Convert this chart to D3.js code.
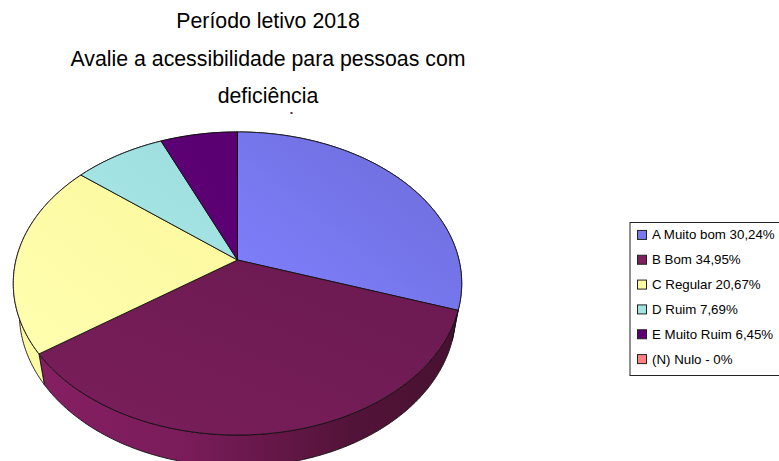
<!DOCTYPE html>
<html>
<head>
<meta charset="utf-8">
<script src="https://cdnjs.cloudflare.com/ajax/libs/d3/7.8.5/d3.min.js"></script>
<style>
body { margin: 0; background: #fff; }
text { font-family: "Liberation Sans", Arial, sans-serif; fill: #000; }
</style>
</head>
<body>
<div id="chart"></div>
<script>
var titleLines = ["Período letivo 2018", "Avalie a acessibilidade para pessoas com", "deficiência"];
var categories = ["A Muito bom", "B Bom", "C Regular", "D Ruim", "E Muito Ruim", "(N) Nulo"];
var values = [30.24, 34.95, 20.67, 7.69, 6.45, 0];
var labels = ["A Muito bom 30,24%", "B Bom 34,95%", "C Regular 20,67%", "D Ruim 7,69%", "E Muito Ruim 6,45%", "(N) Nulo - 0%"];
var colors = ["#7878ee", "#731c55", "#fdfaa4", "#a2e3e3", "#5c0074", "#ff8080"];
var lightColors = ["#8080ff", "#7a1e5b", "#ffffb0", "#a8e8e8", "#5f0078", "#ff8080"];
var darkColors = ["#6c6cd8", "#6a1a50", "#fbf79c", "#9cdcdc", "#590070", "#ff8080"];

var W = 779, H = 461;

var svg = d3.select("#chart").append("svg")
  .attr("width", W)
  .attr("height", H)
  .style("display", "block");

var defs = svg.append("defs");

// pie is tilted with perspective, so unit circle goes through a projective map
var persp = -0.155;
function project(a, level) {
  var u = Math.sin(a), v = -Math.cos(a);
  var d = 1 + persp * v;
  return [level.cx + level.a * u / d, level.cy + level.b * v / d];
}
var topLevel = {cx: 237.5, cy: 260, a: 221.5, b: 147.9};
var botLevel = {cx: 237.5, cy: 289.8, a: 215.5, b: 149.4};

var pie = d3.pie().sort(null).value(function(d) { return d; });
var arcs = pie(values);

function rim(a0, a1, level) {
  var n = Math.max(2, Math.ceil((a1 - a0) / 0.01));
  return d3.range(n + 1).map(function(i) { return project(a0 + (a1 - a0) * i / n, level); });
}
var line = d3.line();

colors.forEach(function(c, i) {
  var g = defs.append("linearGradient").attr("id", "top" + i)
    .attr("x1", 0).attr("y1", 1).attr("x2", 1).attr("y2", 0);
  g.append("stop").attr("offset", 0).attr("stop-color", lightColors[i]);
  g.append("stop").attr("offset", 1).attr("stop-color", darkColors[i]);
});
var wg = defs.append("linearGradient").attr("id", "wall");
wg.append("stop").attr("offset", 0).attr("stop-color", "#851f63");
wg.append("stop").attr("offset", 0.35).attr("stop-color", "#7a1c5a");
wg.append("stop").attr("offset", 0.75).attr("stop-color", "#521338");
wg.append("stop").attr("offset", 1).attr("stop-color", "#481130");

// walls first, the top faces paint over whatever is not visible
var walls = svg.append("g");
arcs.filter(function(d) { return d.endAngle > d.startAngle; }).forEach(function(d) {
  var top = rim(d.startAngle, d.endAngle, topLevel);
  var bot = rim(d.startAngle, d.endAngle, botLevel).reverse();
  walls.append("path")
    .attr("d", line(top.concat(bot)) + "Z")
    .attr("fill", d.index == 1 ? "url(#wall)" : colors[d.index])
    .attr("stroke", "#111")
    .attr("stroke-width", 0.9)
    .attr("stroke-linejoin", "round");
});

var faces = svg.append("g");
arcs.filter(function(d) { return d.endAngle > d.startAngle; }).forEach(function(d) {
  var pts = [[topLevel.cx, topLevel.cy]].concat(rim(d.startAngle, d.endAngle, topLevel));
  faces.append("path")
    .attr("d", line(pts) + "Z")
    .attr("fill", "url(#top" + d.index + ")")
    .attr("stroke", "#111")
    .attr("stroke-width", 0.9)
    .attr("stroke-linejoin", "round");
});

// title
svg.append("g").selectAll("text")
  .data(titleLines)
  .join("text")
  .attr("x", 268)
  .attr("y", function(d, i) { return 28 + i * 37.5; })
  .attr("text-anchor", "middle")
  .attr("font-size", 21.3)
  .text(function(d) { return d; });

// the little speck under the title, leftover label of the empty slice
svg.append("rect")
  .attr("x", 290.5).attr("y", 112)
  .attr("width", 2).attr("height", 2)
  .attr("fill", "#5a3040");

// legend
var legY = d3.scaleBand().domain(categories).range([222.5, 371.5]);
var legend = svg.append("g");
legend.append("rect")
  .attr("x", 630).attr("y", 222.5)
  .attr("width", 155).attr("height", 153)
  .attr("fill", "#fff")
  .attr("stroke", "#222")
  .attr("stroke-width", 1);
var items = legend.selectAll("g.item")
  .data(categories)
  .join("g")
  .attr("class", "item")
  .attr("transform", function(d) { return "translate(637," + (legY(d) + legY.bandwidth() / 2) + ")"; });
items.append("rect")
  .attr("x", 0.5).attr("y", -4.5)
  .attr("width", 9).attr("height", 9)
  .attr("fill", function(d, i) { return i == 1 ? "#7e1f5e" : colors[i]; })
  .attr("stroke", "#222");
items.append("text")
  .attr("x", 15)
  .attr("y", 4.5)
  .attr("font-size", 13.3)
  .text(function(d, i) { return labels[i]; });
</script>
</body>
</html>
